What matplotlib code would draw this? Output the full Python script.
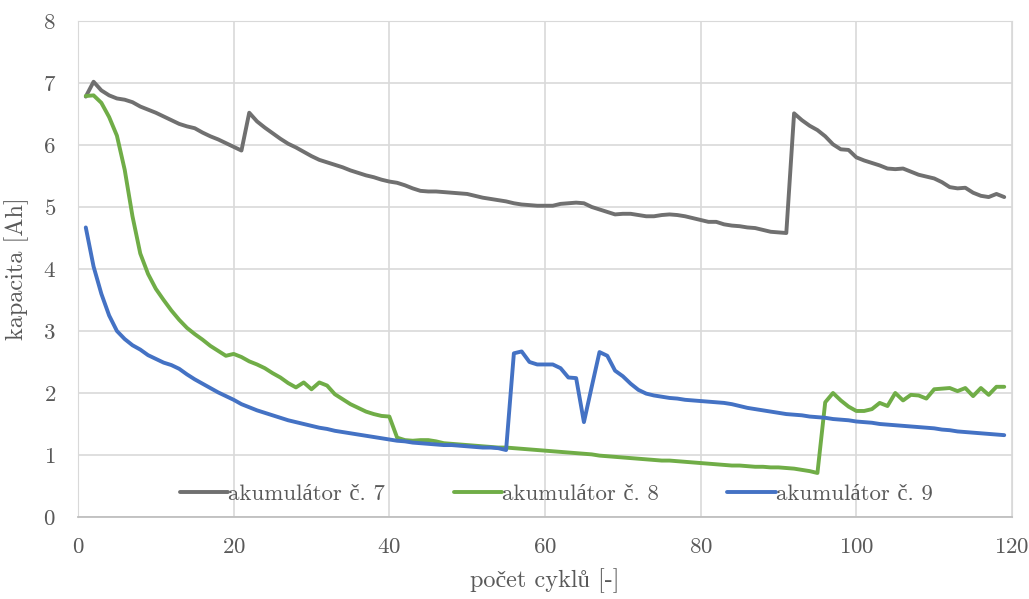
import matplotlib
matplotlib.use("Agg")
from matplotlib import pyplot as plt

# kapacita akumulatorů po jednotlivých cyklech
cykly = list(range(1, 120))

akum7 = [6.78, 7.02, 6.88, 6.80, 6.75, 6.73, 6.69, 6.62, 6.57, 6.52,
         6.46, 6.40, 6.34, 6.30, 6.27, 6.20, 6.14, 6.09, 6.03, 5.97,
         5.91, 6.52, 6.38, 6.28, 6.19, 6.10, 6.02, 5.96, 5.89, 5.82,
         5.76, 5.72, 5.68, 5.64, 5.59, 5.55, 5.51, 5.48, 5.44, 5.41,
         5.39, 5.35, 5.30, 5.26, 5.25, 5.25, 5.24, 5.23, 5.22, 5.21,
         5.18, 5.15, 5.13, 5.11, 5.09, 5.06, 5.04, 5.03, 5.02, 5.02,
         5.02, 5.05, 5.06, 5.07, 5.06, 5.00, 4.96, 4.92, 4.88, 4.89,
         4.89, 4.87, 4.85, 4.85, 4.87, 4.88, 4.87, 4.85, 4.82, 4.79,
         4.76, 4.76, 4.72, 4.70, 4.69, 4.67, 4.66, 4.63, 4.60, 4.59,
         4.58, 6.51, 6.40, 6.31, 6.24, 6.14, 6.01, 5.93, 5.92, 5.80,
         5.75, 5.71, 5.67, 5.62, 5.61, 5.62, 5.57, 5.52, 5.49, 5.46,
         5.40, 5.32, 5.30, 5.31, 5.23, 5.18, 5.16, 5.21, 5.16]

akum8 = [6.79, 6.80, 6.68, 6.45, 6.15, 5.60, 4.85, 4.25, 3.92, 3.68,
         3.50, 3.33, 3.18, 3.05, 2.95, 2.86, 2.76, 2.68, 2.60, 2.63,
         2.58, 2.51, 2.46, 2.40, 2.32, 2.25, 2.16, 2.09, 2.17, 2.06,
         2.17, 2.12, 1.98, 1.90, 1.82, 1.76, 1.70, 1.66, 1.63, 1.62,
         1.28, 1.24, 1.23, 1.24, 1.24, 1.22, 1.19, 1.18, 1.17, 1.16,
         1.15, 1.14, 1.13, 1.12, 1.12, 1.11, 1.10, 1.09, 1.08, 1.07,
         1.06, 1.05, 1.04, 1.03, 1.02, 1.01, 0.99, 0.98, 0.97, 0.96,
         0.95, 0.94, 0.93, 0.92, 0.91, 0.91, 0.90, 0.89, 0.88, 0.87,
         0.86, 0.85, 0.84, 0.83, 0.83, 0.82, 0.81, 0.81, 0.80, 0.80,
         0.79, 0.78, 0.76, 0.74, 0.71, 1.85, 2.00, 1.88, 1.78, 1.71,
         1.71, 1.74, 1.84, 1.79, 2.00, 1.88, 1.97, 1.96, 1.91, 2.06,
         2.07, 2.08, 2.03, 2.08, 1.95, 2.08, 1.97, 2.10, 2.10]

akum9 = [4.67, 4.04, 3.60, 3.25, 3.00, 2.87, 2.77, 2.70, 2.61, 2.55,
         2.49, 2.45, 2.39, 2.30, 2.22, 2.15, 2.08, 2.01, 1.95, 1.89,
         1.82, 1.77, 1.72, 1.68, 1.64, 1.60, 1.56, 1.53, 1.50, 1.47,
         1.44, 1.42, 1.39, 1.37, 1.35, 1.33, 1.31, 1.29, 1.27, 1.25,
         1.23, 1.22, 1.20, 1.19, 1.18, 1.17, 1.16, 1.16, 1.15, 1.14,
         1.13, 1.12, 1.12, 1.11, 1.08, 2.64, 2.67, 2.50, 2.46, 2.46,
         2.46, 2.40, 2.25, 2.24, 1.53, 2.10, 2.66, 2.60, 2.36, 2.27,
         2.15, 2.05, 1.99, 1.96, 1.94, 1.92, 1.91, 1.89, 1.88, 1.87,
         1.86, 1.85, 1.84, 1.82, 1.79, 1.76, 1.74, 1.72, 1.70, 1.68,
         1.66, 1.65, 1.64, 1.62, 1.61, 1.60, 1.58, 1.57, 1.56, 1.54,
         1.53, 1.52, 1.50, 1.49, 1.48, 1.47, 1.46, 1.45, 1.44, 1.43,
         1.41, 1.40, 1.38, 1.37, 1.36, 1.35, 1.34, 1.33, 1.32]

popisky = ["akumulátor č. 7", "akumulátor č. 8", "akumulátor č. 9"]
barvy = ["#707070", "#70AD47", "#4472C4"]

plt.rcParams['font.family'] = ['cmr10', 'Liberation Serif']
plt.rcParams['axes.formatter.use_mathtext'] = True

fig = plt.figure(figsize=(10.29, 5.99), dpi=100)
ax = fig.add_axes([0.0758, 0.1369, 0.9077, 0.8281])

for data, label, c in zip([akum7, akum8, akum9], popisky, barvy):
    ax.plot(cykly, data, color=c, lw=2.8, label=label,
            solid_joinstyle='round', solid_capstyle='round')

ax.set_xlim(0, 120)
ax.set_ylim(0, 8)
ax.set_xticks(range(0, 121, 20))
ax.set_yticks(range(0, 9))
ax.grid(True, color="#d9d9d9", lw=1.2)
ax.set_axisbelow(True)
for s in ['top', 'right', 'left']:
    ax.spines[s].set_color("#d9d9d9")
ax.spines['bottom'].set_color("#bfbfbf")
ax.spines['bottom'].set_linewidth(1.3)
ax.tick_params(length=0, labelsize=16.5, colors="#595959")
ax.tick_params(axis='x', pad=15)
ax.tick_params(axis='y', pad=16)

ax.set_xlabel("počet cyklů [-]", fontsize=17.5, color="#595959", labelpad=8)
ax.set_ylabel("kapacita [Ah]", fontsize=17.5, color="#595959", labelpad=10)

ax.legend(loc='center', bbox_to_anchor=(0.512, 0.046), ncol=3, frameon=False,
          fontsize=16.5, handlelength=2.1, handletextpad=0.0, columnspacing=3.0,
          labelcolor="#595959", borderpad=0)

fig.savefig("out.png", dpi=100)
